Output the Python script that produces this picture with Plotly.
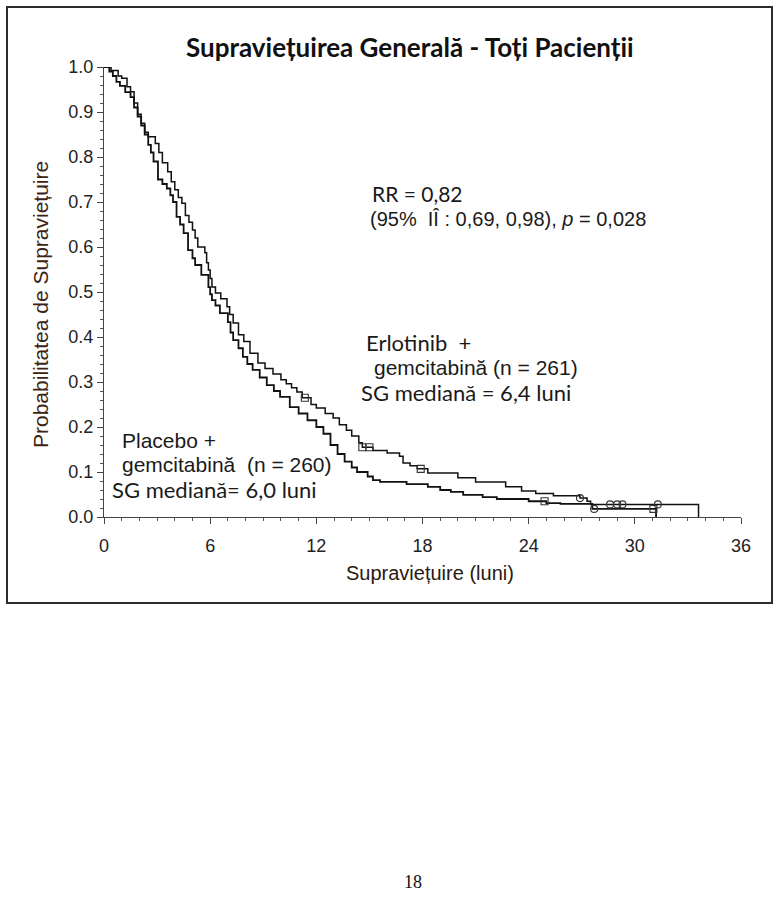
import numpy as np
import plotly.graph_objects as go

# ---------------- data ----------------
erl_t = [0, 0.4, 0.8, 1.0, 1.3, 1.5, 1.7, 1.9, 2.1, 2.3, 2.5, 2.9, 3.1, 3.3, 3.6, 3.8, 4.0, 4.2,
         4.4, 4.6, 4.8, 5.0, 5.15, 5.3, 5.7, 5.8, 5.9, 6.0, 6.1, 6.3, 6.6, 6.95, 7.1, 7.3, 7.6,
         7.9, 8.25, 8.7, 9.1, 9.55, 10.0, 10.3, 10.6, 10.9, 11.2, 11.7, 12.0, 12.5, 12.95, 13.3,
         13.7, 14.0, 14.4, 14.6, 15.2, 16.0, 16.7, 16.9, 17.3, 17.7, 18.3, 20.0, 21.0, 22.7,
         23.6, 24.4, 25.4, 26.9, 27.3, 27.5, 33.6]
erl_s = [1.0, 0.992, 0.98, 0.975, 0.956, 0.945, 0.92, 0.895, 0.875, 0.855, 0.845, 0.83, 0.81,
         0.787, 0.767, 0.745, 0.727, 0.71, 0.697, 0.67, 0.655, 0.638, 0.62, 0.60, 0.587, 0.565,
         0.549, 0.53, 0.511, 0.498, 0.485, 0.467, 0.45, 0.431, 0.405, 0.39, 0.364, 0.342, 0.33,
         0.318, 0.305, 0.296, 0.287, 0.278, 0.265, 0.25, 0.242, 0.23, 0.22, 0.205, 0.193, 0.18,
         0.165, 0.155, 0.148, 0.142, 0.135, 0.12, 0.114, 0.107, 0.098, 0.087, 0.078, 0.067,
         0.058, 0.052, 0.047, 0.042, 0.035, 0.028, 0.0]

pla_t = [0, 0.3, 0.5, 0.7, 0.9, 1.2, 1.5, 1.7, 1.9, 2.1, 2.3, 2.5, 2.65, 2.8, 3.05, 3.3, 3.55,
         3.75, 3.9, 4.1, 4.3, 4.5, 4.75, 5.0, 5.15, 5.5, 5.9, 6.0, 6.1, 6.3, 6.55, 7.0, 7.15,
         7.3, 7.6, 7.85, 8.1, 8.4, 8.8, 9.2, 9.6, 9.95, 10.5, 11.0, 11.5, 12.0, 12.4, 12.8,
         13.2, 13.6, 14.0, 14.3, 14.9, 15.2, 15.6, 17.1, 18.3, 19.0, 19.6, 20.3, 21.4, 22.2,
         24.0, 25.0, 25.8, 27.6, 31.2]
pla_s = [1.0, 0.99, 0.98, 0.967, 0.958, 0.944, 0.933, 0.91, 0.89, 0.87, 0.85, 0.827, 0.81,
         0.79, 0.75, 0.74, 0.73, 0.715, 0.70, 0.667, 0.65, 0.631, 0.593, 0.575, 0.56, 0.538,
         0.511, 0.495, 0.482, 0.47, 0.453, 0.433, 0.41, 0.393, 0.375, 0.356, 0.34, 0.327,
         0.31, 0.293, 0.28, 0.267, 0.244, 0.23, 0.215, 0.2, 0.185, 0.16, 0.14, 0.123, 0.11,
         0.10, 0.09, 0.082, 0.078, 0.073, 0.067, 0.06, 0.056, 0.049, 0.044, 0.04, 0.035,
         0.031, 0.029, 0.018, 0.0]

erl_cens_t = [11.35, 14.6, 15.0, 17.9, 26.9, 28.6, 29.0, 29.3, 31.3]
erl_cens_sym = ["square-open", "square-open", "square-open", "square-open", "circle-open",
                "circle-open", "circle-open", "circle-open", "circle-open"]
pla_cens_t = [24.9, 27.7, 31.05]
pla_cens_sym = ["square-open", "circle-open", "square-open"]

x_ticks = [0, 6, 12, 18, 24, 30, 36]
y_ticks = [0.0, 0.1, 0.2, 0.3, 0.4, 0.5, 0.6, 0.7, 0.8, 0.9, 1.0]

title_text = "Supraviețuirea Generală - Toți Pacienții"
x_title = "Supraviețuire (luni)"
y_title = "Probabilitatea de Supraviețuire"


def step_value(times, surv, t):
    i = np.searchsorted(np.array(times), t, side="right") - 1
    return surv[max(i, 0)]


# ---------------- layout geometry ----------------
W, H = 779, 902
L, R, T, B = 104, 741, 67, 517


def px(xp):
    return (xp - L) / (R - L)


def py(yp):
    return (B - yp) / (B - T)


fig = go.Figure()

fig.add_trace(go.Scatter(x=pla_t, y=pla_s, mode="lines",
                         line=dict(color="#111111", width=1.8, shape="hv"), cliponaxis=False,
                         showlegend=False, hoverinfo="skip"))
fig.add_trace(go.Scatter(x=erl_t, y=erl_s, mode="lines",
                         line=dict(color="#111111", width=1.5, shape="hv"),
                         cliponaxis=False, showlegend=False, hoverinfo="skip"))

fig.add_trace(go.Scatter(
    x=erl_cens_t, y=[step_value(erl_t, erl_s, t) for t in erl_cens_t], mode="markers",
    marker=dict(symbol=erl_cens_sym, size=7, color="#333333", line=dict(width=1.1, color="#333333")),
    cliponaxis=False, showlegend=False, hoverinfo="skip"))
fig.add_trace(go.Scatter(
    x=pla_cens_t, y=[step_value(pla_t, pla_s, t) for t in pla_cens_t], mode="markers",
    marker=dict(symbol=pla_cens_sym, size=7, color="#333333", line=dict(width=1.1, color="#333333")),
    cliponaxis=False, showlegend=False, hoverinfo="skip"))

AX_FONT = dict(family="Liberation Sans, Arial", size=18, color="#222222")

fig.update_xaxes(range=[0, 36], tickvals=x_ticks, ticktext=[str(v) for v in x_ticks],
                 showline=True, linecolor="#444444", linewidth=1.3, ticks="outside", ticklen=6,
                 tickwidth=1.2, tickcolor="#444444", showgrid=False, zeroline=False,
                 tickfont=AX_FONT, ticklabelstandoff=6,
                 minor=dict(dtick=1, ticks="outside", ticklen=3, tickwidth=1, tickcolor="#555555",
                            showgrid=False))
fig.update_yaxes(range=[0, 1.0], tickvals=y_ticks, ticktext=[f"{v:.1f}" for v in y_ticks],
                 showline=True, linecolor="#444444", linewidth=1.3, ticks="outside", ticklen=6,
                 tickwidth=1.2, tickcolor="#444444", showgrid=False, zeroline=False,
                 tickfont=AX_FONT,
                 minor=dict(dtick=0.02, ticks="outside", ticklen=3, tickwidth=1, tickcolor="#555555",
                            showgrid=False))

# outer frame
fig.add_shape(type="rect", xref="paper", yref="paper", x0=px(7), x1=px(772), y0=py(603), y1=py(7),
              line=dict(color="#2b2b2b", width=2), fillcolor="rgba(0,0,0,0)", layer="below")

TXT = dict(family="Liberation Sans, Arial", size=21, color="#1a1a1a")
CAL = dict(family="Lato, Open Sans, sans-serif", size=22, color="#1a1a1a")


def ann(text, xp, yp, font, xanchor="left", angle=0):
    fig.add_annotation(text=text, xref="paper", yref="paper", x=px(xp), y=py(yp), showarrow=False,
                       xanchor=xanchor, yanchor="middle", font=font, textangle=angle)


ann("<b>" + title_text + "</b>", 410, 47, dict(family="Lato, Open Sans, sans-serif", size=26, color="#111111"), "center")
ann(x_title, 430, 573, dict(family="Liberation Sans, Arial", size=20, color="#2a1a10"), "center")
ann(y_title, 40, 305, dict(family="Liberation Sans, Arial", size=21, color="#3b2414"), "center", -90)
ann("RR = 0,82", 370, 193, dict(family="Lato, Open Sans, sans-serif", size=21, color="#1a1a1a"))
ann("(95%  IÎ : 0,69, 0,98), <i>p</i> = 0,028", 368, 219, dict(TXT, size=20))
ann("Erlotinib  +", 364, 342, CAL)
ann("gemcitabină (n = 261)", 372, 367, TXT)
ann("SG mediană = 6,4 luni", 359, 392, CAL)
ann("Placebo +", 120, 440, TXT)
ann("gemcitabină  (n = 260)", 120, 464, TXT)
ann("SG mediană= 6,0 luni", 110, 489, CAL)
ann("18", 413, 882, dict(family="Liberation Serif, Times New Roman, serif", size=18, color="#111111"), "center")

fig.update_layout(width=W, height=H, margin=dict(l=L, r=W - R, t=T, b=H - B, autoexpand=False),
                  paper_bgcolor="white", plot_bgcolor="white", showlegend=False)

fig.write_html("out.html")
